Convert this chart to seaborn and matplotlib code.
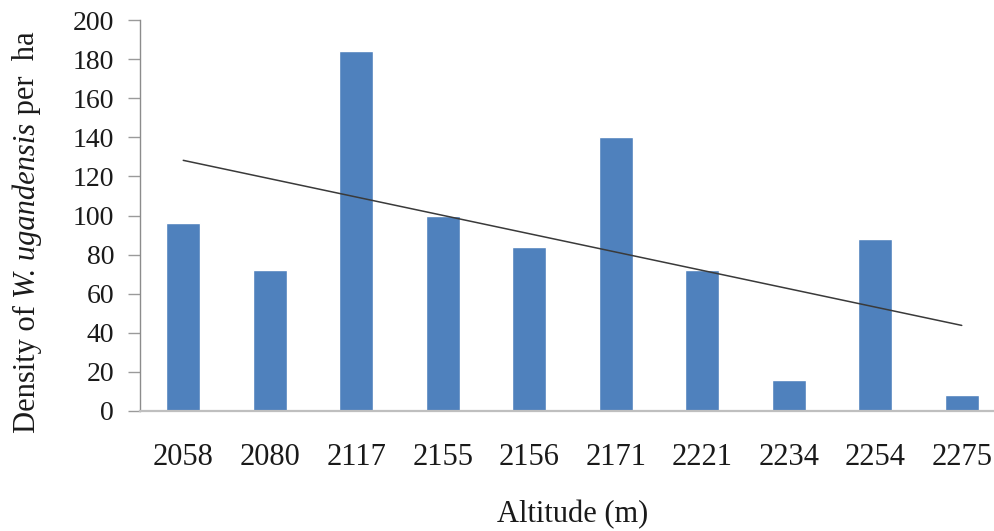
import numpy as np
import pandas as pd
import matplotlib
matplotlib.use("Agg")
import matplotlib.pyplot as plt
import seaborn as sns

# Survey data: density of W. ugandensis at each sampled altitude
altitudes = ["2058", "2080", "2117", "2155", "2156", "2171", "2221", "2234", "2254", "2275"]
density = [96, 72, 184, 100, 84, 140, 72, 16, 88, 8]
y_ticks = [0, 20, 40, 60, 80, 100, 120, 140, 160, 180, 200]

df = pd.DataFrame({"Altitude": altitudes, "Density": density})

sns.set_theme(style="white")
plt.rcParams["font.family"] = ["Liberation Serif", "DejaVu Serif"]

TEXT = "#1a1a1a"

fig = plt.figure(figsize=(9.95, 5.31), dpi=100)
ax = fig.add_axes([140 / 995, 120 / 531, 865 / 995, 391 / 531])

sns.barplot(data=df, x="Altitude", y="Density", color="#4F81BD",
            saturation=1, width=0.39, ax=ax)

# Linear trend line across the altitude classes
idx = np.arange(len(density))
slope, intercept = np.polyfit(idx, density, 1)
ax.plot(idx, slope * idx + intercept, color="#3a3a3a", linewidth=1.1)

ax.set_xlim(-0.5, len(altitudes) - 0.5)
ax.set_ylim(0, 200)
ax.set_yticks(y_ticks)

for side in ("top", "right"):
    ax.spines[side].set_visible(False)
ax.spines["left"].set_color("#8c8c8c")
ax.spines["left"].set_linewidth(1.0)
ax.spines["bottom"].set_color("#bfbfbf")
ax.spines["bottom"].set_linewidth(1.6)

ax.tick_params(axis="y", direction="out", length=8.6, width=1.0,
               color="#9a9a9a", pad=10, labelsize=20, labelcolor=TEXT, left=True)
ax.tick_params(axis="x", length=0, pad=23, labelsize=22, labelcolor=TEXT)

ax.set_xlabel("Altitude (m)", fontsize=22, color=TEXT, va="center")
ax.xaxis.set_label_coords(0.5, -0.266)
ax.set_ylabel("")

# Vertical axis title with the species name in italics, built from
# three rotated pieces chained end to end
label_size = 22
part1 = fig.text(27 / 995, 1 - 433 / 531, "Density of ", rotation=90,
                 ha="center", va="bottom", fontsize=label_size, color=TEXT)
part2 = ax.annotate("W. ugandensis", xy=(0.5, 1), xycoords=part1,
                    rotation=90, ha="center", va="bottom",
                    fontsize=label_size, fontstyle="italic", color=TEXT,
                    annotation_clip=False)
part3 = ax.annotate(" per  ha", xy=(0.5, 1), xycoords=part2,
                    rotation=90, ha="center", va="bottom",
                    fontsize=label_size, color=TEXT, annotation_clip=False)

fig.savefig("out.png", dpi=100)
